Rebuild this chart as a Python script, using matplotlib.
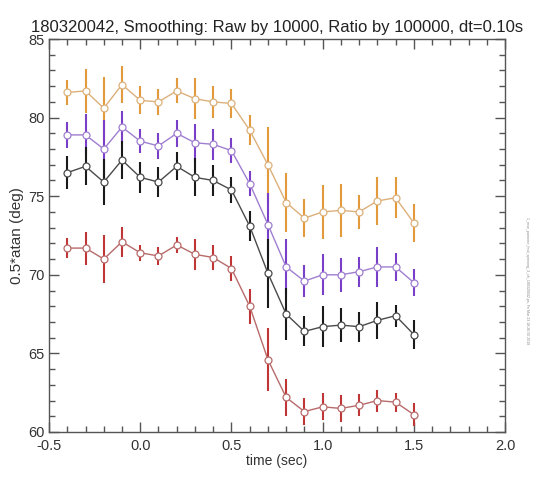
import numpy as np
import matplotlib
matplotlib.use("Agg")
import matplotlib.pyplot as plt
from matplotlib.ticker import MultipleLocator

plt.rcParams["font.family"] = ["Liberation Sans", "DejaVu Sans"]

# time points (sec)
t = [-0.4, -0.3, -0.2, -0.1, 0.0, 0.1, 0.2, 0.3, 0.4, 0.5,
     0.6, 0.7, 0.8, 0.9, 1.0, 1.1, 1.2, 1.3, 1.4, 1.5]

# series values (deg) and error half-widths
orange_y = [81.6, 81.7, 80.6, 82.1, 81.1, 81.0, 81.7, 81.2, 81.0, 80.9,
            79.2, 77.0, 74.6, 73.6, 74.0, 74.1, 74.0, 74.7, 74.9, 73.3]
orange_e = [0.8, 1.4, 2.0, 1.2, 0.9, 0.85, 0.8, 1.3, 1.0, 0.95,
            0.95, 2.4, 1.9, 1.2, 1.7, 1.7, 1.1, 1.55, 1.3, 1.2]

purple_y = [78.9, 78.9, 78.0, 79.4, 78.5, 78.2, 79.0, 78.4, 78.3, 77.9,
            75.8, 73.2, 70.5, 69.6, 70.0, 70.0, 70.2, 70.5, 70.5, 69.5]
purple_e = [0.85, 1.3, 1.85, 1.0, 0.75, 0.85, 0.85, 1.2, 1.0, 0.8,
            0.8, 2.0, 1.8, 1.0, 1.3, 1.1, 0.95, 1.3, 0.9, 0.85]

black_y = [76.5, 76.9, 75.9, 77.3, 76.2, 75.9, 76.9, 76.2, 76.0, 75.4,
           73.1, 70.1, 67.5, 66.4, 66.7, 66.8, 66.7, 67.1, 67.4, 66.2]
black_e = [1.05, 1.2, 1.45, 1.2, 1.0, 0.95, 0.9, 1.2, 1.0, 0.8,
           0.95, 2.2, 1.65, 0.95, 1.3, 1.1, 0.95, 1.2, 0.7, 0.95]

red_y = [71.7, 71.7, 71.0, 72.1, 71.4, 71.2, 71.9, 71.3, 71.1, 70.4,
         68.0, 64.6, 62.2, 61.3, 61.6, 61.5, 61.7, 62.0, 61.9, 61.1]
red_e = [0.65, 1.05, 1.55, 0.95, 0.5, 0.55, 0.5, 1.0, 0.8, 0.8,
         1.1, 2.0, 1.2, 0.85, 0.85, 0.85, 0.7, 0.7, 0.6, 0.75]

title = "180320042, Smoothing: Raw by 10000, Ratio by 100000, dt=0.10s"

fig = plt.figure(figsize=(5.39, 4.83), dpi=100)
ax = fig.add_axes([0.091, 0.1056, 0.846, 0.8136])

# (values, errors, line colour, errorbar colour)
series = [
    (orange_y, orange_e, "#dcb07a", "#e39a3c"),
    (purple_y, purple_e, "#a07ed0", "#7a3fc8"),
    (black_y, black_e, "#4a4a4a", "#1a1a1a"),
    (red_y, red_e, "#b86a6a", "#c03535"),
]

for y, e, lc, ec in series:
    ax.errorbar(t, y, yerr=e, fmt="none", ecolor=ec, elinewidth=1.5,
                capsize=0, zorder=2)
    ax.plot(t, y, color=lc, lw=1.0, marker="o", markersize=5,
            markerfacecolor="white", markeredgecolor=lc, markeredgewidth=0.9,
            zorder=3)

ax.set_xlim(-0.5, 2.0)
ax.set_ylim(60, 85)
ax.xaxis.set_major_locator(MultipleLocator(0.5))
ax.xaxis.set_minor_locator(MultipleLocator(0.1))
ax.yaxis.set_major_locator(MultipleLocator(5))
ax.yaxis.set_minor_locator(MultipleLocator(1))
ax.xaxis.set_major_formatter(plt.FuncFormatter(lambda v, p: f"{v:.1f}"))
ax.tick_params(which="both", direction="in", top=True, right=True,
               color="#555555", labelsize=10.5, labelcolor="#333333")
ax.tick_params(which="major", length=7, width=1.0)
ax.tick_params(which="minor", length=4, width=1.0)
ax.tick_params(axis="x", pad=5)
ax.tick_params(axis="y", pad=3)
for s in ax.spines.values():
    s.set_color("#555555")
    s.set_linewidth(1.0)

ax.set_xlabel("time (sec)", fontsize=10, color="#333333", labelpad=1)
ax.set_ylabel("0.5*atan (deg)", fontsize=11, color="#333333", labelpad=3)
ax.set_title(title, fontsize=12, color="#222222", pad=5)

fig.text(0.978, 0.55, "1_mse_pairwise_hnd_spinning_3_ch_180320042.ps, Fri Mar 23 18:26:50 2018",
         rotation=270, fontsize=2.6, color="#888888", ha="center", va="top")

fig.savefig("out.png", dpi=100, facecolor="white")
